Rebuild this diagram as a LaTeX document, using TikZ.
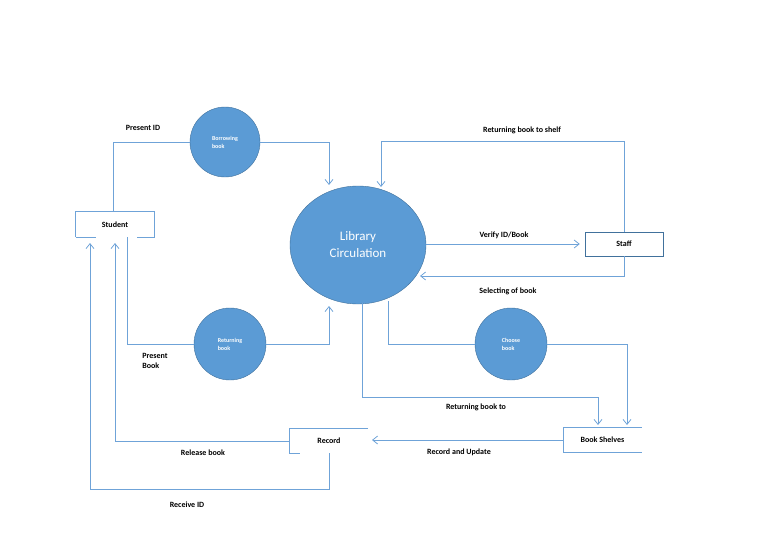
\documentclass[tikz,border=0pt]{standalone}
\usepackage{fontspec}
\setmainfont{Carlito}
\usetikzlibrary{arrows.meta,shapes.geometric}
\definecolor{procfill}{HTML}{5B9BD5}
\definecolor{procline}{HTML}{41719C}
\definecolor{flowline}{HTML}{6FA3D8}
\tikzset{
  process/.style={circle, fill=procfill, draw=procline, text=white, font=\bfseries\fontsize{6}{8}\selectfont, align=left, inner sep=0pt},
  store/.style={minimum width=78pt, minimum height=25pt, inner sep=0pt, font=\bfseries\fontsize{8}{10}\selectfont},
  flow/.style={draw=flowline, line width=0.8pt},
  arr/.style={flow, -{Straight Barb[length=5pt,width=8pt]}},
  lbl/.style={font=\bfseries\fontsize{8}{10}\selectfont, align=left}
}
\begin{document}
\begin{tikzpicture}[x=1pt,y=-1pt]
        \useasboundingbox (0,0) rectangle (768,543);

        % Central process
        \node[ellipse, minimum width=136pt, minimum height=118pt, fill=procfill, draw=procline, text=white, font=\fontsize{13}{17}\selectfont, align=center, inner sep=0pt] (lib) at (358,245) {Library\\Circulation};

        % Small processes
        \node[process, minimum size=70pt] (borrow) at (225,142) {Borrowing\\book};
        \node[process, minimum size=72pt] (return) at (230,344) {Returning\\book};
        \node[process, minimum size=72pt] (choose) at (511,344) {Choose\\book};

        % Entities and stores
        \node[store] (student) at (115,224.5) {Student};
        \draw[flow] (student.south west) -- (student.north west) -- (student.north east) -- (student.south east) -- ++(-17,0);
        \draw[flow] (student.south west) -- ++(20,0);
        \node[store, draw=procline, minimum height=24pt] (staff) at (624,244) {Staff};
        \node[store, minimum height=24pt] (record) at (329,441) {Record};
        \draw[flow] (record.north east) -- (record.north west) -- (record.south west) -- ++(10,0);
        \node[store, minimum height=24pt] (shelves) at (602.5,440) {Book Shelves};
        \draw[flow] (shelves.north east) -- (shelves.north west) -- (shelves.south west) -- (shelves.south east);

        % Arrow ends
        \coordinate (libA) at (329,185);
        \coordinate (libB) at (329,306);
        \coordinate (libC) at (381,187);
        \coordinate (libD) at (420,276);
        \coordinate (shelfA) at (598,425);
        \coordinate (shelfB) at (627,425);
        \coordinate (recIn) at (372,440);
        \coordinate (stuA) at (115,243);
        \coordinate (stuB) at (90,243);
        \coordinate (libE) at (388,301);
        \coordinate (libF) at (362,303);

        % Student flows
        \draw[flow] ([xshift=-2pt]student.north) |- (borrow.west);
        \draw[arr] (borrow.east) -| (libA);
        \draw[flow] ([xshift=12pt]student.south) |- (return.west);
        \draw[arr] (return.east) -| (libB);

        % Staff flows
        \draw[arr] (lib.east |- staff.west) -- ([xshift=-5pt]staff.west);
        \draw[arr] (staff.north) |- (624,141) -| (libC);
        \draw[arr] (staff.south) |- (libD);

        % Shelves flows
        \draw[flow] (libE) |- (choose.west);
        \draw[arr] (choose.east) -| (shelfB);
        \draw[arr] (libF) |- (598,397) -- (shelfA);
        \draw[arr] (shelves.west) -- (recIn);

        % Record flows
        \draw[arr] (record.west) -| (stuA);
        \draw[arr] (record.south) |- (329,489) -| (stuB);

        % Labels
        \node[lbl] (l1) at (143,128) {Present ID};
        \node[lbl] (l2) at (155,361) {Present\\Book};
        \node[lbl] (l3) at (522,130) {Returning book to shelf};
        \node[lbl] (l4) at (504,235) {Verify ID/Book};
        \node[lbl] (l5) at (508,291) {Selecting of book};
        \node[lbl] (l6) at (476,407) {Returning book to};
        \node[lbl] (l7) at (459,452) {Record and Update};
        \node[lbl] (l8) at (203,453) {Release book};
        \node[lbl] (l9) at (187,505) {Receive ID};
    \end{tikzpicture}
\end{document}
